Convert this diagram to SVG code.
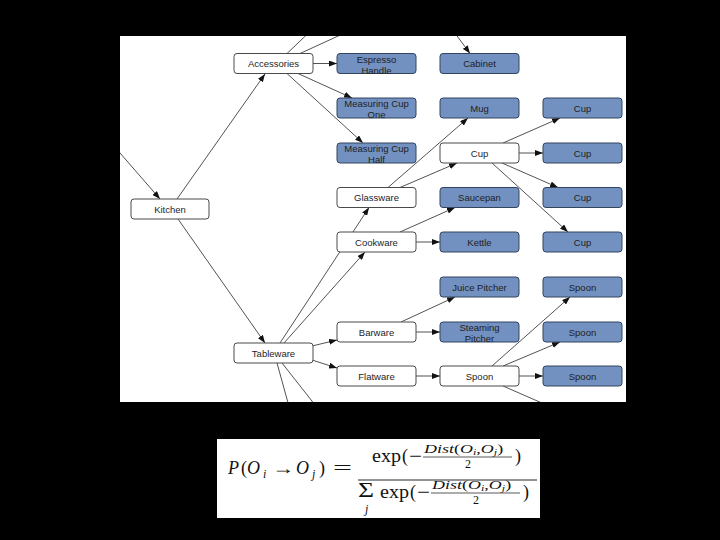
<svg xmlns="http://www.w3.org/2000/svg" width="720" height="540" viewBox="0 0 720 540">
<defs>
<style>
.n text{font-family:"Liberation Sans",Arial,sans-serif;font-size:9.5px;fill:#1e1e1e;text-anchor:middle}
.w rect{fill:#ffffff;stroke:#4a4a4a;stroke-width:1}
.b rect{fill:#7291c1;stroke:#33445f;stroke-width:1}
.e line{stroke:#1a1a1a;stroke-width:0.75;marker-end:url(#ah)}
.f text{font-family:"Liberation Serif","Times New Roman",serif;fill:#111;font-size:18px}
.f .i{font-style:italic}
.f .s12{font-size:12px}
.f .s11{font-size:11px}
.f .s20{font-size:20px}
.f .c{text-anchor:middle}
</style>
<marker id="ah" markerUnits="userSpaceOnUse" markerWidth="8" markerHeight="6" refX="8" refY="3" orient="auto">
<path d="M0,0 L8,3 L0,6 z" fill="#111"/>
</marker>
<clipPath id="panel"><rect x="120" y="36" width="506" height="366"/></clipPath>
</defs>
<rect x="0" y="0" width="720" height="540" fill="#000"/>
<rect x="120" y="36" width="506" height="366" fill="#fff"/>

<g id="connectors" class="e" clip-path="url(#panel)">
<line x1="100" y1="130" x2="160" y2="199"/>
<line x1="177" y1="199" x2="265" y2="74"/>
<line x1="178" y1="219" x2="265" y2="343"/>
<line x1="287" y1="53.5" x2="320" y2="22"/>
<line x1="300" y1="53.5" x2="360" y2="26"/>
<line x1="449" y1="25" x2="470" y2="53.5"/>
<line x1="313" y1="63.5" x2="337" y2="63.5"/>
<line x1="298" y1="73.5" x2="352" y2="98"/>
<line x1="287" y1="73.5" x2="363" y2="143"/>
<line x1="388" y1="187.5" x2="468" y2="118"/>
<line x1="400" y1="187.5" x2="457" y2="163"/>
<line x1="503" y1="143" x2="560" y2="118"/>
<line x1="519" y1="153" x2="543" y2="153"/>
<line x1="502" y1="163" x2="558" y2="187.5"/>
<line x1="492" y1="163" x2="568" y2="232"/>
<line x1="280" y1="343" x2="369" y2="207.5"/>
<line x1="284" y1="343" x2="365" y2="252"/>
<line x1="400" y1="232" x2="455" y2="207.5"/>
<line x1="416" y1="242" x2="440" y2="242"/>
<line x1="312" y1="346" x2="337" y2="340"/>
<line x1="312" y1="360" x2="337" y2="368"/>
<line x1="277" y1="363" x2="290" y2="410"/>
<line x1="282" y1="363" x2="319" y2="410"/>
<line x1="401" y1="322" x2="455" y2="297"/>
<line x1="416" y1="332" x2="440" y2="332"/>
<line x1="416" y1="376" x2="440" y2="376"/>
<line x1="492" y1="366" x2="570" y2="297"/>
<line x1="503" y1="366" x2="560" y2="342"/>
<line x1="519" y1="376" x2="543" y2="376"/>
<line x1="503" y1="386" x2="558" y2="410"/>
</g>

<g id="kitchen" class="n w"><rect x="131" y="199" width="78" height="20" rx="3"/><text x="170" y="212.5">Kitchen</text></g>
<g id="accessories" class="n w"><rect x="234" y="53.5" width="79" height="20" rx="3"/><text x="273.5" y="67">Accessories</text></g>
<g id="tableware" class="n w"><rect x="234" y="343" width="79" height="20" rx="3"/><text x="273.5" y="356.5">Tableware</text></g>

<g id="espresso-handle" class="n b"><rect x="337" y="53.5" width="79" height="20" rx="3"/><text x="376.5" y="62.7">Espresso</text><text x="376.5" y="73.5">Handle</text></g>
<g id="measuring-cup-one" class="n b"><rect x="337" y="98" width="79" height="20" rx="3"/><text x="376.5" y="107.2">Measuring Cup</text><text x="376.5" y="118">One</text></g>
<g id="measuring-cup-half" class="n b"><rect x="337" y="143" width="79" height="20" rx="3"/><text x="376.5" y="152.2">Measuring Cup</text><text x="376.5" y="163">Half</text></g>
<g id="glassware" class="n w"><rect x="337" y="187.5" width="79" height="20" rx="3"/><text x="376.5" y="201">Glassware</text></g>
<g id="cookware" class="n w"><rect x="337" y="232" width="79" height="20" rx="3"/><text x="376.5" y="245.5">Cookware</text></g>
<g id="barware" class="n w"><rect x="337" y="322" width="79" height="20" rx="3"/><text x="376.5" y="335.5">Barware</text></g>
<g id="flatware" class="n w"><rect x="337" y="366" width="79" height="20" rx="3"/><text x="376.5" y="379.5">Flatware</text></g>

<g id="cabinet" class="n b"><rect x="440" y="53.5" width="79" height="20" rx="3"/><text x="479.5" y="67">Cabinet</text></g>
<g id="mug" class="n b"><rect x="440" y="98" width="79" height="20" rx="3"/><text x="479.5" y="111.5">Mug</text></g>
<g id="cup" class="n w"><rect x="440" y="143" width="79" height="20" rx="3"/><text x="479.5" y="156.5">Cup</text></g>
<g id="saucepan" class="n b"><rect x="440" y="187.5" width="79" height="20" rx="3"/><text x="479.5" y="201">Saucepan</text></g>
<g id="kettle" class="n b"><rect x="440" y="232" width="79" height="20" rx="3"/><text x="479.5" y="245.5">Kettle</text></g>
<g id="juice-pitcher" class="n b"><rect x="440" y="277" width="79" height="20" rx="3"/><text x="479.5" y="290.5">Juice Pitcher</text></g>
<g id="steaming-pitcher" class="n b"><rect x="440" y="322" width="79" height="20" rx="3"/><text x="479.5" y="331.2">Steaming</text><text x="479.5" y="342">Pitcher</text></g>
<g id="spoon" class="n w"><rect x="440" y="366" width="79" height="20" rx="3"/><text x="479.5" y="379.5">Spoon</text></g>

<g id="cup-1" class="n b"><rect x="543" y="98" width="79" height="20" rx="3"/><text x="582.5" y="111.5">Cup</text></g>
<g id="cup-2" class="n b"><rect x="543" y="143" width="79" height="20" rx="3"/><text x="582.5" y="156.5">Cup</text></g>
<g id="cup-3" class="n b"><rect x="543" y="187.5" width="79" height="20" rx="3"/><text x="582.5" y="201">Cup</text></g>
<g id="cup-4" class="n b"><rect x="543" y="232" width="79" height="20" rx="3"/><text x="582.5" y="245.5">Cup</text></g>
<g id="spoon-1" class="n b"><rect x="543" y="277" width="79" height="20" rx="3"/><text x="582.5" y="290.5">Spoon</text></g>
<g id="spoon-2" class="n b"><rect x="543" y="322" width="79" height="20" rx="3"/><text x="582.5" y="335.5">Spoon</text></g>
<g id="spoon-3" class="n b"><rect x="543" y="366" width="79" height="20" rx="3"/><text x="582.5" y="379.5">Spoon</text></g>

<g id="formula" class="f">
<rect x="217" y="439" width="323" height="79" fill="#fff"/>
<text class="i" x="228" y="474">P</text>
<text x="241" y="474">(</text>
<text class="i" x="247" y="474">O</text>
<text class="i s12" x="263" y="478">i</text>
<text x="272" y="474" textLength="22" lengthAdjust="spacingAndGlyphs">→</text>
<text class="i" x="296" y="474">O</text>
<text class="i s12" x="312" y="478">j</text>
<text x="319" y="474">)</text>
<text x="333" y="474" textLength="19" lengthAdjust="spacingAndGlyphs">=</text>
<line x1="358" y1="480" x2="537" y2="480" stroke="#111" stroke-width="0.9"/>

<text x="372" y="462" textLength="29" lengthAdjust="spacingAndGlyphs">exp</text>
<text x="402" y="462">(</text>
<text x="409" y="462" textLength="13" lengthAdjust="spacingAndGlyphs">−</text>
<text class="i s12" transform="translate(424,453) scale(1.5,1)">Dist<tspan font-style="normal">(</tspan>O<tspan font-size="8" dy="2">i</tspan><tspan dy="-2" font-style="normal">,</tspan>O<tspan font-size="8" dy="2">j</tspan><tspan dy="-2" font-style="normal">)</tspan></text>
<line x1="423" y1="457" x2="512" y2="457" stroke="#111" stroke-width="0.7"/>
<text class="s12 c" x="468" y="468">2</text>
<text x="515" y="462">)</text>

<text class="s20" x="358" y="497" textLength="16" lengthAdjust="spacingAndGlyphs">Σ</text>
<text class="i s12" x="365" y="513">j</text>
<text x="380" y="498" textLength="29" lengthAdjust="spacingAndGlyphs">exp</text>
<text x="410" y="498">(</text>
<text x="417" y="498" textLength="13" lengthAdjust="spacingAndGlyphs">−</text>
<text class="i s12" transform="translate(432,489) scale(1.5,1)">Dist<tspan font-style="normal">(</tspan>O<tspan font-size="8" dy="2">i</tspan><tspan dy="-2" font-style="normal">,</tspan>O<tspan font-size="8" dy="2">j</tspan><tspan dy="-2" font-style="normal">)</tspan></text>
<line x1="431" y1="493" x2="520" y2="493" stroke="#111" stroke-width="0.7"/>
<text class="s12 c" x="476" y="504">2</text>
<text x="523" y="498">)</text>
</g>
</svg>
